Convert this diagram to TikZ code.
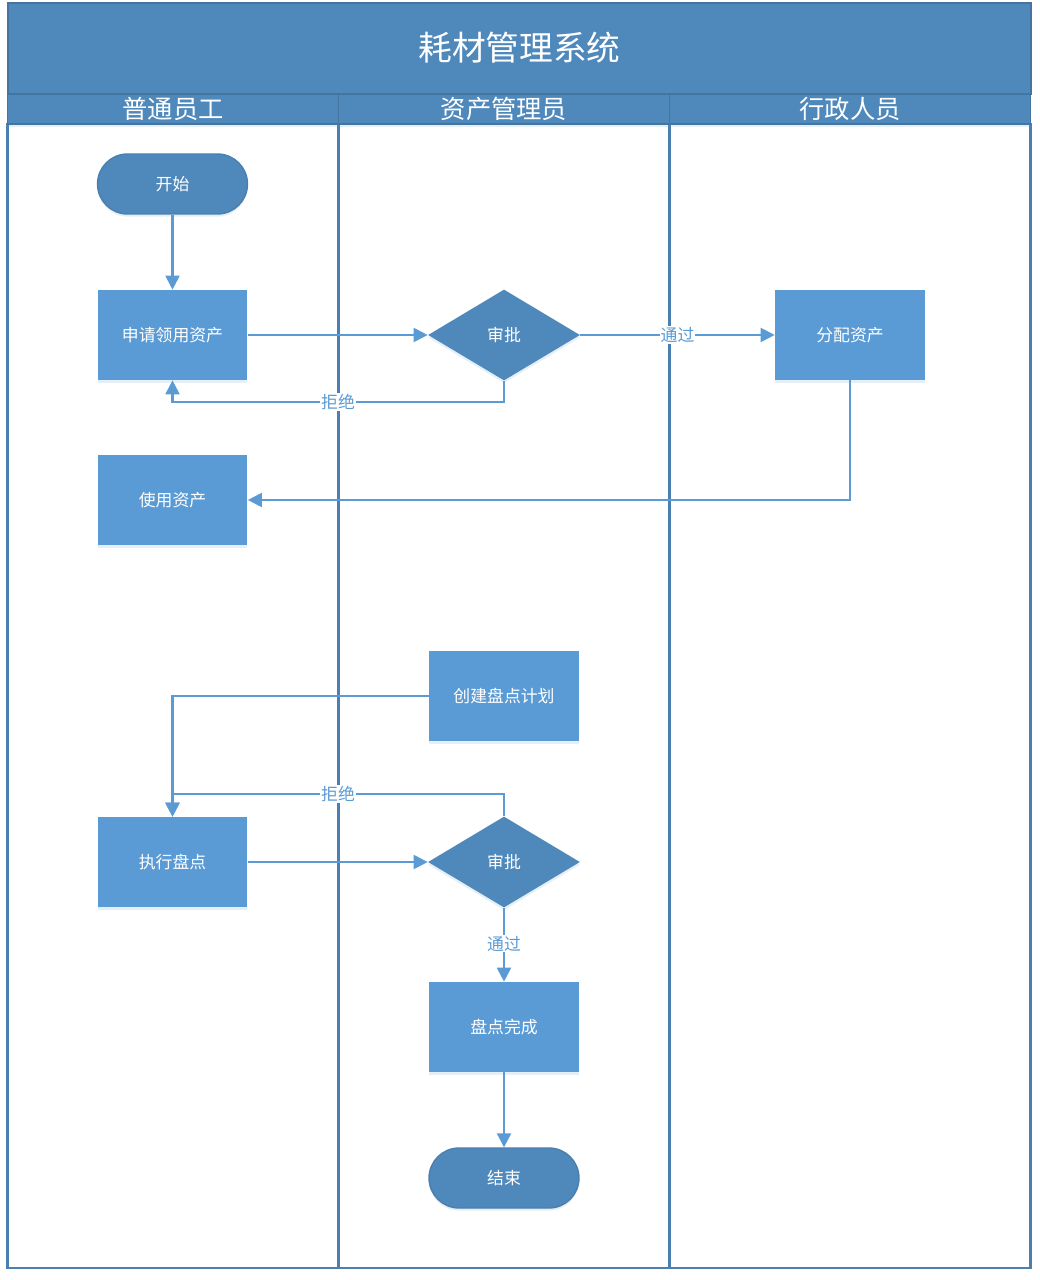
\documentclass[tikz,border=0pt]{standalone}
\usepackage{fontspec}
\setmainfont{Noto Sans CJK SC}
\usetikzlibrary{positioning}
\usetikzlibrary{shapes.geometric}
\usetikzlibrary{arrows.meta}
\usetikzlibrary{shadows}
\definecolor{headblue}{HTML}{4F88BB}
\definecolor{laneblue}{HTML}{4A7FAF}
\definecolor{bandline}{HTML}{44749F}
\definecolor{boxblue}{HTML}{5B9BD5}
\tikzset{
	softshadow/.style={drop shadow={shadow xshift=0pt,shadow yshift=-1.5pt,fill=boxblue,opacity=0.16}},
	band/.style={rectangle, draw=bandline, fill=headblue, line width=1.1pt, text=white, inner sep=0pt},
	lanebox/.style={rectangle, draw=laneblue, line width=1.2pt, inner sep=0pt, minimum width=331*0.02cm, minimum height=1144*0.02cm},
	taskbox/.style={rectangle, fill=boxblue, text=white, font=\fontsize{9.6}{11}\selectfont, minimum width=3cm, minimum height=1.8cm, inner sep=0pt, softshadow},
	endpoint/.style={rectangle, rounded corners=0.6cm, draw=laneblue, fill=headblue, text=white, font=\fontsize{9.6}{11}\selectfont, line width=0.8pt, minimum width=3cm, minimum height=1.2cm, inner sep=0pt, softshadow},
	check/.style={diamond, aspect=1.67, fill=headblue, text=white, font=\fontsize{9.6}{11}\selectfont, minimum width=3.04cm, minimum height=1.82cm, inner sep=0pt, softshadow},
	flow/.style={draw=boxblue, line width=1.2pt, -{Triangle[length=8pt,width=8pt,fill=boxblue]}},
	lab/.style={fill=white, text=boxblue, font=\fontsize{9.6}{11}\selectfont, inner sep=0.5pt},
}
\begin{document}
\begin{tikzpicture}[x=0.02cm,y=-0.02cm]
	\useasboundingbox (0,0) rectangle (1039,1280);
	
	\node[lanebox] (L1) at (173,696) {};
	\node[lanebox] (L2) at (504,696) {};
	\node[lanebox, minimum width=361*0.02cm] (L3) at (850,696) {};
	
	\node[band, minimum width=1023*0.02cm, minimum height=91*0.02cm] (title) at (519.5,48.5) {};
	\node[font=\fontsize{19.2}{23}\selectfont, text=white, inner sep=0pt] (titletext) at (519.5,48) {耗材管理系统};
	\node[band, minimum width=331*0.02cm, minimum height=30*0.02cm, font=\fontsize{14.4}{17}\selectfont, softshadow] (H1) at (173,109) {普通员工};
	\node[band, minimum width=331*0.02cm, minimum height=30*0.02cm, font=\fontsize{14.4}{17}\selectfont, softshadow] (H2) at (504,109) {资产管理员};
	\node[band, minimum width=361*0.02cm, minimum height=30*0.02cm, font=\fontsize{14.4}{17}\selectfont, softshadow] (H3) at (850,109) {行政人员};
	
	\node[endpoint] (start) at (172.5,184) {开始};
	\node[taskbox] (apply) at (172.5,335) {申请领用资产};
	\node[check] (audit) at (504,335) {审批};
	\node[taskbox] (assign) at (850,335) {分配资产};
	\node[taskbox] (use) at (172.5,500) {使用资产};
	\node[taskbox] (plan) at (504,696) {创建盘点计划};
	\node[taskbox] (count) at (172.5,862) {执行盘点};
	\node[check] (recheck) at (504,862) {审批};
	\node[taskbox] (done) at (504,1027) {盘点完成};
	\node[endpoint] (finish) at (504,1178) {结束};
	
	\coordinate (rej1) at (338,402);
	\coordinate (rej2) at (338,794);
	
	\draw[flow] (start) -- (apply);
	\draw[flow] (apply) -- (audit);
	\draw[flow] (audit) -- (assign) node[lab, midway] {通过};
	\draw[flow] (audit.south) |- (rej1) node[lab, pos=1] {拒绝} -| (apply.south);
	\draw[flow] (assign.south) |- (use.east);
	\draw[flow] (plan.west) -| (count.north);
	\draw[flow] (recheck.north) |- (rej2) node[lab, pos=1] {拒绝} -| (count.north);
	\draw[flow] (count) -- (recheck);
	\draw[flow] (recheck) -- (done) node[lab, midway, yshift=0.5pt] {通过};
	\draw[flow] (done) -- (finish);
\end{tikzpicture}
\end{document}
